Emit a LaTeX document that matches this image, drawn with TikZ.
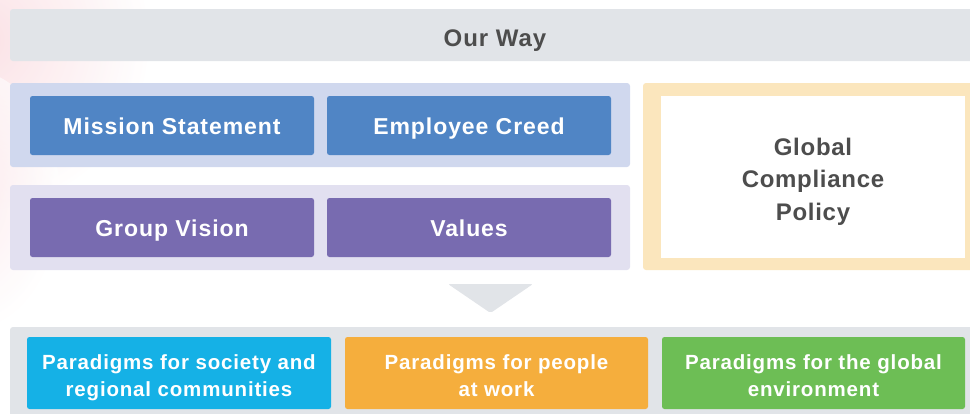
\documentclass[tikz,border=0pt]{standalone}
\usepackage{fontspec}
\setmainfont{Liberation Sans}
\newfontfamily\boldsp[LetterSpace=4]{Liberation Sans Bold}
\newfontfamily\boldgcp[LetterSpace=3]{Liberation Sans Bold}
\definecolor{topgray}{HTML}{E1E4E8}
\definecolor{bluebg}{HTML}{D0D8EE}
\definecolor{bluebox}{HTML}{5085C5}
\definecolor{purplebg}{HTML}{E2E0F0}
\definecolor{purplebox}{HTML}{786BB0}
\definecolor{goldbg}{HTML}{FBE6BD}
\definecolor{darktext}{HTML}{4D4D4D}
\definecolor{cyanbox}{HTML}{15B1E6}
\definecolor{orangebox}{HTML}{F5AE3D}
\definecolor{greenbox}{HTML}{6DBE55}
\definecolor{pinkwash}{HTML}{F9D2D8}
\tikzset{
  panel/.style={rounded corners=3pt, inner sep=0pt, outer sep=0pt},
  mainbox/.style={rounded corners=2.5pt, inner sep=0pt, outer sep=0pt, text=white,
    minimum width=284pt, minimum height=59pt, text height=18.4pt, text depth=0pt,
    font=\boldsp\fontsize{23}{27}\selectfont},
  parbox/.style={rounded corners=2.5pt, inner sep=0pt, outer sep=0pt, text=white, align=center,
    minimum width=304pt, minimum height=72pt, text height=46pt, text depth=0pt,
    font=\boldsp\fontsize{20.5}{27}\selectfont},
}
\begin{document}
\begin{tikzpicture}[x=1pt,y=-1pt]
\useasboundingbox (0,0) rectangle (970,413);
\clip (0,0) rectangle (970,413);
% faint pink wash
\shade[inner color=pinkwash, outer color=white] (-20,40) circle (170);
\shade[inner color=pinkwash, outer color=white, opacity=0.6] (-30,200) ellipse (90 and 130);
\fill[white, opacity=0.35] (0,0) rectangle (970,413);
% top bar
\node[panel, fill=topgray, minimum width=970pt, minimum height=52pt, text height=23.4pt, text depth=0pt,
  text=darktext, font=\boldsp\fontsize{24}{28}\selectfont, anchor=north west] (ourway) at (10,9) {Our Way};
% blue panel
\node[panel, fill=bluebg, minimum width=620pt, minimum height=84pt, anchor=north west] (bluep) at (10,83) {};
\node[mainbox, fill=bluebox] (mission) at (172,125.5) {Mission Statement};
\node[mainbox, fill=bluebox] (creed) at (469,125.5) {Employee Creed};
% purple panel
\node[panel, fill=purplebg, minimum width=620pt, minimum height=85pt, anchor=north west] (purplep) at (10,185) {};
\node[mainbox, fill=purplebox] (vision) at (172,227.5) {Group Vision};
\node[mainbox, fill=purplebox] (values) at (469,227.5) {Values};
% compliance
\node[panel, fill=goldbg, minimum width=342pt, minimum height=187pt, anchor=north west] (gcpouter) at (643,83) {};
\node[inner sep=0pt, outer sep=0pt, fill=white, minimum width=304pt, minimum height=162pt,
  text height=86.4pt, text depth=0pt, align=center, text=darktext,
  font=\boldgcp\fontsize{24}{32.3}\selectfont] (gcp) at (813,177) {Global\\Compliance\\Policy};
% arrow
\fill[topgray, rounded corners=2pt] (448,284) -- (533,284) -- (490.5,313) -- cycle;
% bottom bar
\node[panel, fill=topgray, minimum width=975pt, minimum height=98pt, anchor=north west] (botbar) at (10,327) {};
\node[parbox, fill=cyanbox] (p1) at (179,373) {Paradigms for society and\\regional communities};
\node[parbox, fill=orangebox, minimum width=303pt] (p2) at (496.5,373) {Paradigms for people\\at work};
\node[parbox, fill=greenbox, minimum width=303pt] (p3) at (813.5,373) {Paradigms for the global\\environment};
\end{tikzpicture}
\end{document}
